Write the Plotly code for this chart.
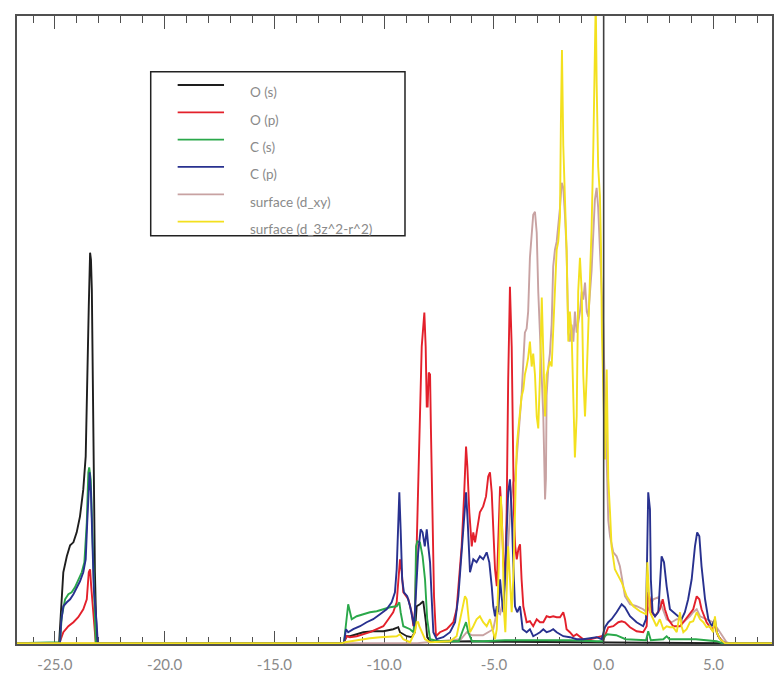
import plotly.graph_objects as go

# ---------------- data ----------------
x_tick_vals = [-25, -20, -15, -10, -5, 0, 5]
x_tick_text = ["-25.0", "-20.0", "-15.0", "-10.0", "-5.0", "0.0", "5.0"]
x_range = [-26.73, 7.67]
y_range = [-0.008, 6.28]

series_names = ["O (s)", "O (p)", "C (s)", "C (p)", "surface (d_xy)", "surface (d_3z^2-r^2)"]
series_colors = ["#1e1e1e", "#e3202b", "#2aa84a", "#28318f", "#c8a2a2", "#f3e01e"]

o_s_points = [(-26.73, 0), (-24.85, 0), (-24.81, 0.01), (-24.62, 0.71), (-24.46, 0.87), (-24.31, 0.98),
              (-24.16, 1.01), (-24.01, 1.11), (-23.86, 1.27), (-23.71, 1.54), (-23.60, 1.87), (-23.53, 2.77),
              (-23.46, 3.37), (-23.40, 3.91), (-23.36, 3.84), (-23.32, 3.54), (-23.28, 2.71), (-23.26, 1.71),
              (-23.18, 0.71), (-23.10, 0), (-11.90, 0), (-11.83, 0.01), (-11.71, 0.07), (-11.56, 0.07),
              (-11.25, 0.09), (-10.95, 0.11), (-10.50, 0.12), (-10.04, 0.12), (-9.59, 0.14), (-9.36, 0.16),
              (-9.28, 0.11), (-8.97, 0.07), (-8.75, 0.06), (-8.60, 0.11), (-8.52, 0.37), (-8.37, 0.39),
              (-8.22, 0.42), (-8.14, 0.31), (-8.10, 0.21), (-8.04, 0.06), (-7.91, 0.02), (-7.5, 0.015),
              (-6.0, 0.02), (-5.0, 0.015), (-3.0, 0.01), (0.0, 0.01), (2.0, 0.005), (5.6, 0), (7.67, 0)]

o_p_points = [(-26.73, 0), (-24.80, 0), (-24.62, 0.11), (-24.39, 0.17), (-24.16, 0.21), (-23.94, 0.26),
              (-23.71, 0.34), (-23.55, 0.44), (-23.46, 0.71), (-23.40, 0.74), (-23.35, 0.57), (-23.28, 0.37),
              (-23.21, 0.11), (-23.14, 0), (-11.90, 0), (-11.83, 0.01), (-11.71, 0.07), (-11.56, 0.06),
              (-11.25, 0.07), (-10.95, 0.09), (-10.65, 0.11), (-10.34, 0.14), (-10.04, 0.17), (-9.81, 0.24),
              (-9.59, 0.31), (-9.43, 0.41), (-9.33, 0.71), (-9.28, 0.84), (-9.20, 0.71), (-9.13, 0.51),
              (-8.90, 0.44), (-8.75, 0.31), (-8.67, 0.17), (-8.60, 0.31), (-8.52, 0.97), (-8.45, 1.64),
              (-8.37, 2.31), (-8.29, 2.97), (-8.17, 3.31), (-8.11, 2.97), (-8.06, 2.37), (-8.02, 2.37),
              (-7.97, 2.71), (-7.91, 2.69), (-7.87, 2.14), (-7.81, 1.31), (-7.73, 0.47), (-7.64, 0.07),
              (-7.46, 0.11), (-7.15, 0.14), (-6.85, 0.21), (-6.70, 0.34), (-6.58, 0.64), (-6.47, 0.97),
              (-6.36, 1.47), (-6.27, 1.97), (-6.21, 1.77), (-6.12, 1.31), (-6.01, 0.97), (-5.94, 1.11),
              (-5.86, 1.01), (-5.79, 1.11), (-5.64, 1.31), (-5.49, 1.37), (-5.36, 1.47), (-5.26, 1.67),
              (-5.18, 1.71), (-5.10, 1.51), (-5.03, 1.14), (-4.95, 0.74), (-4.87, 0.57), (-4.80, 0.97),
              (-4.72, 1.57), (-4.65, 1.31), (-4.57, 0.81), (-4.50, 0.64), (-4.42, 1.31), (-4.35, 2.64),
              (-4.27, 3.57), (-4.19, 2.97), (-4.15, 1.97), (-4.09, 1.31), (-4.03, 0.97), (-3.96, 0.84),
              (-3.88, 0.95), (-3.81, 0.99), (-3.74, 0.64), (-3.66, 0.37), (-3.51, 0.21), (-3.36, 0.22),
              (-3.21, 0.17), (-3.05, 0.24), (-2.90, 0.21), (-2.75, 0.21), (-2.60, 0.27), (-2.45, 0.26),
              (-2.30, 0.27), (-2.14, 0.26), (-1.99, 0.26), (-1.84, 0.31), (-1.76, 0.24), (-1.69, 0.14),
              (-1.54, 0.11), (-1.38, 0.07), (-1.23, 0.09), (-0.93, 0.04), (-0.62, 0.04), (-0.32, 0.06),
              (-0.09, 0.07), (-0.02, 0.03), (0.12, 0.11), (0.21, 0.16), (0.44, 0.17), (0.67, 0.21),
              (0.82, 0.22), (0.97, 0.21), (1.20, 0.16), (1.50, 0.12), (1.80, 0.11), (1.96, 0.17),
              (2.03, 0.51), (2.11, 0.44), (2.19, 0.31), (2.34, 0.27), (2.56, 0.34), (2.69, 0.44),
              (2.79, 0.34), (2.94, 0.24), (3.17, 0.17), (3.48, 0.17), (3.63, 0.21), (3.85, 0.27),
              (4.08, 0.34), (4.24, 0.47), (4.36, 0.44), (4.46, 0.34), (4.69, 0.21), (4.92, 0.14),
              (5.07, 0.17), (5.22, 0.07), (5.45, 0.01), (5.6, 0), (7.67, 0)]

c_s_points = [(-26.73, 0), (-24.77, 0.01), (-24.69, 0.27), (-24.54, 0.44), (-24.39, 0.49), (-24.24, 0.51),
              (-24.09, 0.56), (-23.94, 0.64), (-23.78, 0.71), (-23.66, 0.81), (-23.55, 1.21), (-23.48, 1.71),
              (-23.44, 1.76), (-23.37, 1.64), (-23.31, 1.21), (-23.26, 0.71), (-23.18, 0.21), (-23.14, 0),
              (-11.88, 0), (-11.83, 0.01), (-11.64, 0.39), (-11.48, 0.24), (-11.25, 0.27), (-10.95, 0.29),
              (-10.65, 0.31), (-10.34, 0.32), (-10.04, 0.34), (-9.74, 0.36), (-9.43, 0.37), (-9.31, 0.41),
              (-9.25, 0.31), (-9.13, 0.17), (-8.82, 0.14), (-8.67, 0.11), (-8.60, 0.24), (-8.55, 0.97),
              (-8.49, 1.02), (-8.37, 1.01), (-8.25, 0.87), (-8.14, 0.64), (-8.04, 0.24), (-7.91, 0.04),
              (-7.5, 0.02), (-6.6, 0.02), (-6.40, 0.14), (-6.27, 0.21), (-6.17, 0.11), (-6.0, 0.02),
              (-5.5, 0.02), (-4.5, 0.03), (-3.0, 0.03), (-1.5, 0.03), (-0.3, 0.02), (-0.05, 0.02),
              (0.05, 0.07), (0.17, 0.09), (0.57, 0.08), (1.0, 0.04), (1.93, 0.03), (2.03, 0.12),
              (2.15, 0.03), (2.72, 0.04), (2.87, 0.07), (3.0, 0.04), (4.2, 0.04), (5.15, 0.02),
              (5.4, 0), (7.67, 0)]

c_p_points = [(-26.73, 0), (-24.77, 0), (-24.72, 0.21), (-24.62, 0.37), (-24.46, 0.41), (-24.31, 0.44),
              (-24.16, 0.49), (-24.01, 0.56), (-23.86, 0.62), (-23.71, 0.71), (-23.60, 0.84), (-23.53, 1.21),
              (-23.46, 1.57), (-23.42, 1.71), (-23.36, 1.51), (-23.30, 1.04), (-23.23, 0.54), (-23.10, 0.2),
              (-23.05, 0), (-11.88, 0), (-11.83, 0.01), (-11.74, 0.14), (-11.64, 0.11), (-11.41, 0.14),
              (-11.10, 0.17), (-10.80, 0.21), (-10.50, 0.24), (-10.19, 0.29), (-9.89, 0.34), (-9.66, 0.41),
              (-9.51, 0.51), (-9.43, 0.74), (-9.37, 1.14), (-9.31, 1.51), (-9.25, 1.14), (-9.18, 0.64),
              (-9.10, 0.51), (-8.95, 0.47), (-8.82, 0.37), (-8.70, 0.21), (-8.64, 0.17), (-8.56, 0.47),
              (-8.45, 0.91), (-8.34, 1.14), (-8.25, 1.11), (-8.15, 0.97), (-8.06, 1.14), (-7.99, 0.97),
              (-7.91, 0.81), (-7.84, 0.47), (-7.76, 0.11), (-7.61, 0.04), (-7.31, 0.06), (-7.00, 0.11),
              (-6.77, 0.21), (-6.62, 0.47), (-6.47, 0.91), (-6.35, 1.31), (-6.27, 1.51), (-6.20, 1.24),
              (-6.09, 0.71), (-5.94, 0.84), (-5.79, 0.81), (-5.64, 0.87), (-5.49, 0.84), (-5.33, 0.91),
              (-5.21, 0.81), (-5.10, 0.57), (-5.03, 0.37), (-4.95, 0.27), (-4.87, 0.37), (-4.80, 0.31),
              (-4.72, 0.64), (-4.65, 0.47), (-4.57, 0.31), (-4.50, 0.64), (-4.42, 1.14), (-4.35, 1.51),
              (-4.27, 1.64), (-4.19, 1.31), (-4.12, 0.81), (-4.04, 0.37), (-3.94, 0.31), (-3.81, 0.37),
              (-3.69, 0.14), (-3.51, 0.11), (-3.36, 0.14), (-3.21, 0.07), (-3.05, 0.09), (-2.90, 0.11),
              (-2.75, 0.14), (-2.60, 0.11), (-2.45, 0.12), (-2.30, 0.14), (-2.14, 0.11), (-1.84, 0.07),
              (-1.54, 0.06), (-1.23, 0.04), (-0.93, 0.04), (-0.62, 0.05), (-0.32, 0.06), (-0.09, 0.04),
              (-0.02, 0.11), (0.06, 0.16), (0.21, 0.21), (0.36, 0.24), (0.59, 0.31), (0.82, 0.39),
              (0.97, 0.36), (1.20, 0.27), (1.50, 0.21), (1.80, 0.17), (1.93, 0.24), (1.99, 0.97),
              (2.03, 1.51), (2.11, 1.34), (2.15, 0.64), (2.23, 0.31), (2.34, 0.27), (2.49, 0.31),
              (2.64, 0.87), (2.75, 0.81), (2.87, 0.57), (3.02, 0.34), (3.17, 0.31), (3.40, 0.27),
              (3.55, 0.24), (3.70, 0.31), (3.85, 0.44), (4.01, 0.64), (4.16, 0.97), (4.26, 1.11),
              (4.36, 1.07), (4.46, 0.77), (4.62, 0.44), (4.77, 0.24), (4.92, 0.17), (5.07, 0.24),
              (5.15, 0.11), (5.30, 0.04), (5.53, 0), (7.67, 0)]

d_xy_points = [(-26.73, 0), (-8.5, 0), (-8.0, 0.01), (-7.5, 0.02), (-7.0, 0.03), (-6.5, 0.04), (-6.24, 0.11),
               (-6.0, 0.08), (-5.5, 0.08), (-5.03, 0.14), (-4.87, 0.31), (-4.72, 0.29), (-4.57, 0.44),
               (-4.42, 0.74), (-4.31, 1.14), (-4.22, 1.44), (-4.12, 1.61), (-4.04, 1.65), (-3.96, 1.86),
               (-3.89, 2.06), (-3.81, 2.27), (-3.74, 2.48), (-3.66, 2.82), (-3.59, 3.11), (-3.51, 3.15),
               (-3.44, 3.32), (-3.36, 3.86), (-3.28, 4.15), (-3.21, 4.29), (-3.13, 4.32), (-3.05, 4.11),
               (-2.98, 3.52), (-2.90, 3.02), (-2.82, 2.69), (-2.75, 2.27), (-2.67, 1.44), (-2.63, 1.65),
               (-2.60, 2.48), (-2.52, 2.77), (-2.45, 2.90), (-2.37, 3.19), (-2.30, 3.77), (-2.22, 3.94),
               (-2.14, 4.02), (-2.07, 4.15), (-1.99, 4.36), (-1.91, 4.61), (-1.84, 4.56), (-1.76, 4.27),
               (-1.69, 3.94), (-1.61, 3.11), (-1.54, 3.02), (-1.46, 3.19), (-1.38, 3.02), (-1.31, 3.32),
               (-1.23, 3.11), (-1.08, 3.32), (-1.00, 3.52), (-0.93, 3.44), (-0.85, 3.61), (-0.77, 3.32),
               (-0.70, 3.27), (-0.62, 3.52), (-0.55, 3.73), (-0.47, 4.11), (-0.40, 4.44), (-0.32, 4.56),
               (-0.25, 4.36), (-0.17, 3.94), (-0.09, 3.52), (-0.02, 3.19), (0.06, 2.48), (0.14, 1.86),
               (0.21, 1.23), (0.29, 1.07), (0.44, 0.91), (0.59, 0.87), (0.74, 0.77), (0.82, 0.67),
               (0.97, 0.47), (1.20, 0.39), (1.50, 0.37), (1.80, 0.34), (1.96, 0.31), (2.11, 0.37),
               (2.26, 0.44), (2.49, 0.46), (2.64, 0.37), (2.87, 0.24), (3.10, 0.21), (3.33, 0.24),
               (3.48, 0.24), (3.63, 0.21), (3.78, 0.24), (3.93, 0.27), (4.08, 0.31), (4.24, 0.34),
               (4.39, 0.27), (4.69, 0.24), (4.99, 0.21), (5.30, 0.11), (5.60, 0.01), (5.7, 0), (7.67, 0)]

d_z2_points = [(-26.73, 0), (-11.9, 0), (-11.8, 0.01), (-11.25, 0.03), (-10.65, 0.05), (-10.19, 0.06),
               (-9.43, 0.07), (-9.28, 0.09), (-9.13, 0.04), (-8.82, 0.01), (-8.60, 0.11), (-8.52, 0.21),
               (-8.45, 0.21), (-8.40, 0.17), (-8.29, 0.11), (-8.14, 0.04), (-7.9, 0.01), (-7.0, 0.02),
               (-6.70, 0.07), (-6.47, 0.31), (-6.32, 0.47), (-6.24, 0.44), (-6.17, 0.27), (-6.09, 0.11),
               (-5.94, 0.17), (-5.79, 0.24), (-5.64, 0.27), (-5.49, 0.21), (-5.33, 0.17), (-5.18, 0.24),
               (-5.03, 0.11), (-4.95, 0.04), (-4.87, 0.14), (-4.80, 0.64), (-4.72, 1.31), (-4.68, 1.47),
               (-4.60, 0.97), (-4.54, 0.31), (-4.48, 0.11), (-4.42, 0.47), (-4.35, 0.97), (-4.27, 0.64),
               (-4.19, 0.31), (-4.12, 0.64), (-4.04, 1.31), (-3.96, 1.97), (-3.89, 2.14), (-3.81, 2.31),
               (-3.74, 2.47), (-3.66, 2.54), (-3.59, 2.69), (-3.51, 2.77), (-3.44, 2.86), (-3.36, 3.02),
               (-3.28, 2.77), (-3.21, 2.90), (-3.13, 2.69), (-3.05, 2.27), (-2.98, 2.15), (-2.90, 2.69),
               (-2.82, 3.46), (-2.75, 2.90), (-2.67, 2.27), (-2.60, 2.69), (-2.52, 2.77), (-2.45, 2.82),
               (-2.37, 2.77), (-2.30, 3.11), (-2.22, 3.52), (-2.14, 3.94), (-2.07, 4.02), (-1.99, 4.27),
               (-1.95, 5.19), (-1.90, 5.94), (-1.84, 4.98), (-1.76, 4.36), (-1.69, 3.94), (-1.61, 3.02),
               (-1.54, 3.32), (-1.46, 3.11), (-1.38, 2.48), (-1.31, 1.86), (-1.23, 2.27), (-1.16, 3.52),
               (-1.08, 3.86), (-1.00, 3.52), (-0.93, 2.69), (-0.85, 2.27), (-0.77, 2.69), (-0.70, 3.11),
               (-0.62, 3.73), (-0.55, 4.15), (-0.47, 4.98), (-0.40, 6.02), (-0.36, 6.45), (-0.32, 5.61),
               (-0.25, 4.77), (-0.17, 4.48), (-0.12, 3.94), (-0.08, 3.11), (-0.02, 2.48), (0.06, 1.84),
               (0.14, 2.74), (0.21, 1.64), (0.29, 1.31), (0.36, 0.97), (0.51, 0.74), (0.67, 0.67),
               (0.82, 0.61), (1.05, 0.47), (1.35, 0.37), (1.65, 0.32), (1.93, 0.29), (1.99, 0.81),
               (2.03, 0.64), (2.11, 0.31), (2.26, 0.24), (2.41, 0.17), (2.56, 0.24), (2.72, 0.14),
               (2.87, 0.17), (3.02, 0.16), (3.17, 0.16), (3.33, 0.11), (3.48, 0.31), (3.55, 0.17),
               (3.63, 0.11), (3.78, 0.14), (3.93, 0.21), (4.08, 0.22), (4.24, 0.31), (4.39, 0.24),
               (4.54, 0.21), (4.69, 0.16), (4.84, 0.17), (4.99, 0.11), (5.07, 0.27), (5.15, 0.11),
               (5.30, 0.04), (5.53, 0.0), (7.67, 0)]

series_points = [o_s_points, o_p_points, c_s_points, c_p_points, d_xy_points, d_z2_points]
draw_order = [4, 0, 1, 2, 3, 5]

# ---------------- figure ----------------
fig = go.Figure()
for i in draw_order:
    pts = series_points[i]
    fig.add_trace(go.Scatter(
        x=[p[0] for p in pts], y=[p[1] for p in pts],
        mode="lines", name=series_names[i],
        line=dict(color=series_colors[i], width=1.9),
        showlegend=False, hoverinfo="skip",
    ))

# invisible companion trace so that the top (mirror) axis with minor ticks is drawn
fig.add_trace(go.Scatter(x=x_range, y=[0, 0], xaxis="x2", mode="lines",
                         line=dict(width=0), opacity=0, showlegend=False, hoverinfo="skip"))

axis_color = "#505050"
tick_common = dict(ticks="inside", ticklen=13, tickwidth=1.4, tickcolor=axis_color,
                   tickvals=x_tick_vals,
                   minor=dict(dtick=1, ticks="inside", ticklen=7, tickwidth=1.4,
                              tickcolor=axis_color, showgrid=False))
fig.update_layout(
    width=783, height=674,
    margin=dict(l=17, r=11, t=16, b=30, autoexpand=False),
    paper_bgcolor="white", plot_bgcolor="white",
    font=dict(family="Lato, 'Open Sans', sans-serif", color="#8a8a8a", size=14),
    xaxis=dict(
        range=x_range, showgrid=False, zeroline=False, automargin=False,
        showline=True, linecolor=axis_color, linewidth=1.6, mirror=False,
        ticktext=x_tick_text, ticklabelstandoff=6,
        tickfont=dict(size=15, color="#8a8a8a"),
        layer="below traces", **tick_common,
    ),
    xaxis2=dict(
        range=x_range, matches="x", overlaying="x", side="top", anchor="y",
        showgrid=False, zeroline=False, automargin=False,
        showline=True, linecolor=axis_color, linewidth=1.6,
        showticklabels=False, **tick_common,
    ),
    yaxis=dict(
        range=y_range, showgrid=False, zeroline=False, automargin=False,
        showline=True, linecolor=axis_color, linewidth=1.6, mirror=True,
        ticks="", showticklabels=False,
    ),
)

# Fermi level marker
fig.add_shape(type="line", xref="x", yref="paper", x0=0, x1=0, y0=0, y1=1,
              line=dict(color="#404040", width=1.6), layer="above")

# legend box drawn in paper coordinates
box = dict(x0=0.1771, x1=0.5139, y0=0.6502, y1=0.9113)
fig.add_shape(type="rect", xref="paper", yref="paper", **box,
              line=dict(color="#222222", width=1.5), fillcolor="white", layer="above")
row_top, row_step = 0.8901, 0.0435
for i, name in enumerate(series_names):
    yl = row_top - i * row_step
    fig.add_shape(type="line", xref="paper", yref="paper", x0=0.2128, x1=0.2742, y0=yl, y1=yl,
                  line=dict(color=series_colors[i], width=1.8), layer="above")
    fig.add_annotation(xref="paper", yref="paper", x=0.3060, y=yl - 0.0115, text=name,
                       showarrow=False, xanchor="left", yanchor="middle",
                       font=dict(size=13.5, color="#8a8a8a"))

fig.write_html("out.html", config={"displayModeBar": False},
               post_script="document.body.style.margin='0';document.body.style.overflow='hidden';")
